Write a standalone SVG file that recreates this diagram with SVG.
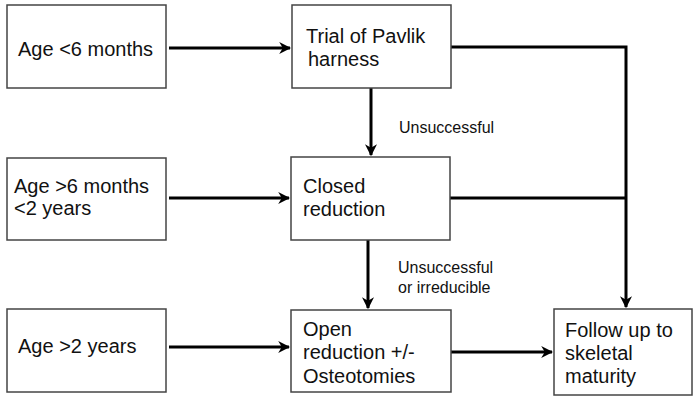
<svg xmlns="http://www.w3.org/2000/svg" width="693" height="396" viewBox="0 0 693 396">
<defs>
<style>
.box{fill:#fff;stroke:#444;stroke-width:1.5}
.t{font-family:"Liberation Sans",Arial,sans-serif;font-size:20px;fill:#111}
.l{font-family:"Liberation Sans",Arial,sans-serif;font-size:16px;fill:#111}
.c{fill:none;stroke:#000;stroke-width:3}
</style>
<marker id="ah" viewBox="0 0 10 10" refX="9" refY="5" markerWidth="4" markerHeight="4" orient="auto" markerUnits="strokeWidth">
<path d="M0,0 L10,5 L0,10 L3,5 Z" fill="#000"/>
</marker>
</defs>
<rect width="693" height="396" fill="#fff"/>
<g id="connectors">
<line class="c" x1="169" y1="48" x2="290" y2="48" marker-end="url(#ah)"/>
<line class="c" x1="169" y1="198" x2="289" y2="198" marker-end="url(#ah)"/>
<line class="c" x1="169" y1="347" x2="289" y2="347" marker-end="url(#ah)"/>
<line class="c" x1="371" y1="88" x2="371" y2="155" marker-end="url(#ah)"/>
<line class="c" x1="368" y1="240" x2="368" y2="308" marker-end="url(#ah)"/>
<line class="c" x1="451" y1="352" x2="552" y2="352" marker-end="url(#ah)"/>
<polyline class="c" points="451,47 626,47 626,307" marker-end="url(#ah)"/>
<line class="c" x1="450" y1="198" x2="626" y2="198"/>
</g>
<g id="lbl1"><text class="l" x="399" y="133">Unsuccessful</text></g>
<g id="lbl2"><text class="l" x="398" y="273">Unsuccessful</text><text class="l" x="398" y="293">or irreducible</text></g>
<g id="age6"><rect class="box" x="7" y="5" width="159" height="83"/><text class="t" x="18" y="56">Age &lt;6 months</text></g>
<g id="age6to2"><rect class="box" x="7" y="158" width="159" height="82"/><text class="t" x="14" y="193">Age &gt;6 months</text><text class="t" x="14" y="215">&lt;2 years</text></g>
<g id="age2"><rect class="box" x="7" y="309" width="159" height="83"/><text class="t" x="18" y="353">Age &gt;2 years</text></g>
<g id="pavlik"><rect class="box" x="292" y="5" width="159" height="83"/><text class="t" x="306" y="43">Trial of Pavlik</text><text class="t" x="308" y="66">harness</text></g>
<g id="closed"><rect class="box" x="291" y="157" width="159" height="83"/><text class="t" x="303" y="193">Closed</text><text class="t" x="303" y="216">reduction</text></g>
<g id="open"><rect class="box" x="291" y="310" width="160" height="82"/><text class="t" x="303" y="336">Open</text><text class="t" x="303" y="359">reduction +/-</text><text class="t" x="303" y="383">Osteotomies</text></g>
<g id="follow"><rect class="box" x="554" y="309" width="138" height="86"/><text class="t" x="565" y="337">Follow up to</text><text class="t" x="565" y="360">skeletal</text><text class="t" x="565" y="383">maturity</text></g>
</svg>
